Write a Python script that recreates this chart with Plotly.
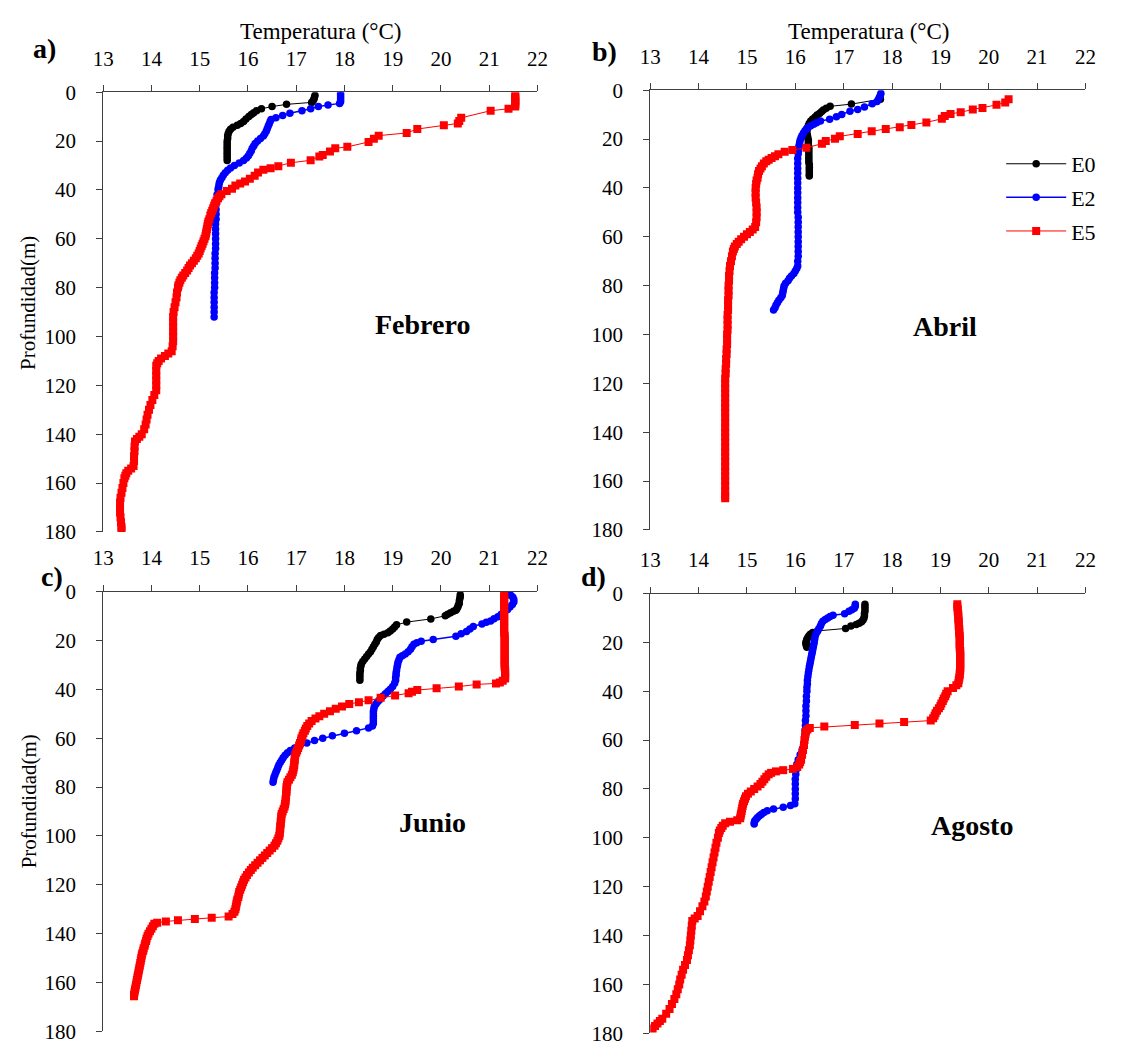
import plotly.graph_objects as go

# CTD profiles: (depth m, temperature °C) per station and month

# ---- Febrero ----
feb_e0 = [(1.3, 17.39), (2.0, 17.38), (2.8, 17.37), (3.5, 17.35), (4.2, 17.32), (5.0, 16.80), (5.9, 16.50), (6.8, 16.28),
          (7.6, 16.18), (8.4, 16.12), (9.2, 16.07), (10.0, 16.02), (11.0, 15.96), (12.0, 15.91), (12.8, 15.85), (13.6, 15.78),
          (14.4, 15.69), (15.2, 15.64), (16.0, 15.61), (17.0, 15.59), (18.0, 15.58), (19.0, 15.58), (20.0, 15.57), (21.0, 15.57),
          (22.0, 15.57), (23.0, 15.57), (24.0, 15.57), (25.0, 15.57), (26.0, 15.57), (27.0, 15.57), (28.0, 15.57)]
feb_e2 = [(0.7, 17.92), (1.5, 17.92), (2.3, 17.92), (3.1, 17.92), (3.9, 17.92), (4.6, 17.90), (5.3, 17.66), (5.9, 17.46),
          (6.8, 17.30), (7.6, 17.12), (8.6, 16.87), (9.6, 16.72), (10.5, 16.58), (11.2, 16.48), (12, 16.46), (13, 16.44),
          (14, 16.42), (15, 16.40), (16, 16.38), (17, 16.35), (18, 16.32), (19, 16.26), (20, 16.20), (21, 16.15), (22, 16.12),
          (23, 16.09), (24, 16.07), (25, 16.04), (26, 16.01), (27, 15.97), (28, 15.91), (29, 15.82), (30, 15.72), (31, 15.64),
          (32, 15.58), (33, 15.53), (34, 15.49), (35, 15.46), (36, 15.43), (37, 15.41), (38, 15.40), (39, 15.39), (40, 15.38),
          (42, 15.36), (44, 15.35), (46, 15.34), (48, 15.34), (50, 15.34), (52, 15.34), (54, 15.33), (56, 15.33), (58, 15.33),
          (60, 15.33), (62, 15.33), (64, 15.33), (66, 15.32), (68, 15.32), (70, 15.32), (72, 15.32), (74, 15.31), (76, 15.31),
          (78, 15.31), (80, 15.31), (82, 15.30), (84, 15.30), (86, 15.30), (88, 15.30), (90, 15.30), (92, 15.30)]
feb_e5 = [(1.3, 21.54), (2.0, 21.54), (2.8, 21.54), (3.6, 21.54), (4.4, 21.54), (5.2, 21.54), (5.9, 21.54), (6.8, 21.40),
          (7.6, 21.03), (10.5, 20.42), (11.8, 20.38), (12.8, 20.35), (13.6, 20.06), (15.1, 19.51), (16.7, 19.29), (17.8, 18.71),
          (19.1, 18.61), (20.4, 18.50), (22.4, 18.06), (23.0, 17.81), (24.3, 17.70), (25.7, 17.55), (26.3, 17.48), (27.9, 17.30),
          (28.9, 16.89), (30.3, 16.63), (31.2, 16.47), (31.8, 16.32), (32.9, 16.21), (34.2, 16.14), (35.4, 16.04), (36.6, 15.94),
          (37.4, 15.84), (38.2, 15.74), (39.5, 15.67), (40.5, 15.56), (41.8, 15.45), (42.6, 15.41), (43.4, 15.38), (44.5, 15.35),
          (45.5, 15.32), (46.5, 15.30), (47.5, 15.28), (48.5, 15.26), (49.5, 15.24), (50.5, 15.22), (52, 15.20), (53, 15.18),
          (54, 15.17), (55, 15.16), (56, 15.15), (57, 15.14), (58, 15.13), (59, 15.12), (60, 15.10), (61, 15.08), (62, 15.06),
          (63, 15.04), (64, 15.02), (65, 15.00), (66, 14.98), (67, 14.95), (68, 14.92), (69, 14.88), (70, 14.84), (71, 14.80),
          (72, 14.77), (73, 14.74), (74, 14.70), (75, 14.66), (76, 14.63), (77, 14.60), (78, 14.58), (79, 14.56), (80, 14.55),
          (82, 14.53), (84, 14.52), (86, 14.50), (88, 14.48), (90, 14.46), (92, 14.45), (94, 14.45), (96, 14.45), (98, 14.45),
          (100, 14.45), (102, 14.45), (104, 14.44), (106, 14.42), (107, 14.35), (108, 14.28), (109, 14.20), (110, 14.15),
          (111, 14.12), (112, 14.10), (114, 14.10), (116, 14.10), (118, 14.10), (120, 14.10), (122, 14.10), (124, 14.06),
          (126, 14.02), (128, 13.98), (130, 13.95), (132, 13.92), (134, 13.90), (136, 13.88), (138, 13.85), (140, 13.80),
          (141, 13.75), (142, 13.70), (143, 13.66), (145, 13.65), (147, 13.65), (149, 13.64), (151, 13.64), (153, 13.63),
          (154, 13.58), (155, 13.52), (156, 13.48), (157, 13.46), (158, 13.44), (160, 13.42), (162, 13.40), (164, 13.38),
          (166, 13.36), (168, 13.35), (170, 13.35), (172, 13.35), (174, 13.36), (176, 13.37), (178, 13.38), (179, 13.38)]

# ---- Abril ----
abr_e0 = [(3.7, 17.76), (5.7, 17.16), (6.6, 16.72), (7.4, 16.64), (8.1, 16.58), (8.8, 16.54), (9.5, 16.50), (10.2, 16.45),
          (11.0, 16.41), (11.8, 16.36), (12.6, 16.32), (13.5, 16.29), (14.5, 16.27), (15.5, 16.25), (16.5, 16.24), (17.5, 16.24),
          (18.5, 16.25), (19.5, 16.26), (20.5, 16.27), (21.5, 16.27), (22.5, 16.27), (23.5, 16.28), (24.5, 16.28), (25.5, 16.28),
          (26.5, 16.28), (27.5, 16.28), (28.5, 16.28), (29.5, 16.28), (30.5, 16.29), (31.5, 16.29), (32.5, 16.29), (33.5, 16.29),
          (34.5, 16.29), (35.1, 16.29)]
abr_e2 = [(1.3, 17.77), (2.0, 17.76), (2.9, 17.74), (3.7, 17.72), (4.6, 17.69), (5.6, 17.59), (6.9, 17.43), (7.9, 17.29),
          (8.6, 17.13), (9.9, 16.96), (10.9, 16.85), (11.9, 16.71), (12.6, 16.52), (13.3, 16.44), (13.9, 16.38), (14.6, 16.32),
          (15.2, 16.27), (15.9, 16.23), (16.6, 16.20), (17.5, 16.17), (18.5, 16.14), (19.5, 16.12), (20.5, 16.10), (21.5, 16.09),
          (22.5, 16.08), (23.5, 16.07), (25, 16.06), (26, 16.06), (28, 16.05), (30, 16.05), (32, 16.05), (34, 16.05), (36, 16.05),
          (38, 16.05), (40, 16.05), (42, 16.05), (44, 16.05), (46, 16.05), (48, 16.05), (50, 16.05), (52, 16.06), (54, 16.06),
          (56, 16.06), (58, 16.06), (60, 16.06), (62, 16.06), (64, 16.06), (66, 16.06), (68, 16.06), (70, 16.05), (72, 16.05),
          (73, 16.03), (74, 16.00), (75, 15.97), (76, 15.92), (77, 15.88), (78, 15.85), (79, 15.80), (80, 15.77), (81, 15.76),
          (82, 15.75), (83, 15.74), (84, 15.73), (85, 15.70), (86, 15.66), (87, 15.63), (88, 15.60), (89, 15.58), (90, 15.55)]
abr_e5 = [(3.7, 20.41), (5.0, 20.34), (6.0, 20.16), (7.3, 19.87), (7.9, 19.67), (9.0, 19.42), (9.7, 19.21), (10.6, 19.09),
          (11.7, 19.03), (13.2, 18.71), (14.2, 18.40), (15.2, 18.16), (15.9, 17.87), (16.8, 17.58), (17.9, 17.29), (18.9, 16.92),
          (19.9, 16.82), (20.8, 16.63), (21.9, 16.55), (23.6, 16.23), (24.5, 15.94), (25.2, 15.78), (26.2, 15.65), (27.0, 15.58),
          (27.8, 15.51), (28.5, 15.45), (29.1, 15.40), (30.0, 15.35), (31.1, 15.31), (32.0, 15.28), (33.1, 15.25), (34.4, 15.23),
          (35.8, 15.22), (37.0, 15.20), (38.4, 15.19), (40, 15.18), (42, 15.18), (44, 15.18), (46, 15.19), (48, 15.20),
          (50, 15.20), (52, 15.20), (54, 15.19), (56, 15.17), (57, 15.12), (58, 15.06), (59, 15.00), (60, 14.94), (61, 14.88),
          (62, 14.83), (63, 14.79), (64, 14.75), (65, 14.73), (66, 14.71), (68, 14.69), (70, 14.67), (72, 14.65), (74, 14.64),
          (76, 14.63), (78, 14.63), (80, 14.62), (82, 14.62), (84, 14.62), (86, 14.61), (88, 14.61), (90, 14.61), (92, 14.60),
          (94, 14.60), (96, 14.60), (98, 14.60), (100, 14.59), (102, 14.59), (104, 14.59), (106, 14.58), (108, 14.58),
          (110, 14.57), (112, 14.57), (114, 14.56), (116, 14.56), (118, 14.55), (120, 14.55), (122, 14.55), (124, 14.55),
          (126, 14.55), (128, 14.55), (130, 14.55), (132, 14.55), (134, 14.55), (136, 14.55), (138, 14.55), (140, 14.55),
          (142, 14.55), (144, 14.55), (146, 14.55), (148, 14.55), (150, 14.55), (152, 14.55), (154, 14.55), (156, 14.55),
          (158, 14.55), (160, 14.55), (162, 14.55), (164, 14.55), (166, 14.55), (167, 14.55)]

# ---- Junio ----
jun_e0 = [(1.3, 20.40), (2.1, 20.40), (2.9, 20.39), (3.9, 20.38), (4.9, 20.38), (5.6, 20.36), (6.3, 20.35), (7.0, 20.33),
          (7.6, 20.31), (8.1, 20.26), (8.7, 20.20), (9.3, 20.14), (9.9, 20.09), (11.2, 19.79), (12.5, 19.29), (13.6, 19.08),
          (14.5, 19.04), (15.3, 19.00), (16.1, 18.95), (16.9, 18.90), (17.5, 18.82), (18.0, 18.75), (18.8, 18.71), (19.6, 18.68),
          (20.6, 18.66), (21.6, 18.63), (22.6, 18.60), (23.6, 18.57), (24.6, 18.54), (25.6, 18.50), (26.6, 18.46), (27.6, 18.42),
          (28.6, 18.38), (29.6, 18.35), (30.5, 18.34), (31.4, 18.33), (32.3, 18.33), (33.3, 18.32), (34.3, 18.32), (35.3, 18.32),
          (36.3, 18.32)]
jun_e2 = [(0.9, 21.40), (1.6, 21.45), (2.3, 21.49), (3.3, 21.51), (4.3, 21.51), (5.3, 21.48), (6.3, 21.43), (7.3, 21.38),
          (8.3, 21.32), (9.3, 21.25), (10.3, 21.18), (11.1, 21.10), (12.0, 21.03), (12.6, 20.94), (13.3, 20.85), (14.3, 20.67),
          (15.3, 20.60), (16.3, 20.53), (17.3, 20.42), (18.3, 20.31), (19.6, 19.84), (20.3, 19.59), (21.0, 19.50), (21.6, 19.44),
          (22.6, 19.40), (23.6, 19.37), (24.6, 19.32), (25.6, 19.26), (26.3, 19.20), (26.9, 19.15), (27.9, 19.13), (28.9, 19.11),
          (30, 19.10), (31, 19.09), (32.3, 19.08), (33.3, 19.07), (34.3, 19.07), (35.3, 19.06), (36.3, 19.06), (37.5, 19.04),
          (38.9, 19.00), (40, 18.95), (40.9, 18.90), (41.8, 18.85), (42.7, 18.80), (43.6, 18.76), (44.5, 18.72), (45.3, 18.68),
          (46.1, 18.65), (47, 18.62), (48, 18.61), (49, 18.60), (50, 18.60), (51, 18.60), (52, 18.60), (53, 18.60), (54, 18.60),
          (55, 18.58), (55.8, 18.50), (57, 18.25), (58, 18.00), (59, 17.75), (60, 17.55), (61, 17.38), (62, 17.22), (63, 17.08),
          (64, 16.97), (65, 16.88), (66, 16.82), (67, 16.77), (68, 16.73), (69, 16.70), (70, 16.67), (71, 16.64), (72, 16.62),
          (73, 16.60), (74, 16.58), (75, 16.56), (76, 16.54), (77, 16.53), (78, 16.52)]
jun_e5 = [(1, 21.31), (2, 21.31), (3, 21.31), (4, 21.31), (5, 21.31), (6, 21.31), (7, 21.31), (8, 21.31), (9, 21.31),
          (10, 21.31), (11, 21.31), (12, 21.31), (13, 21.31), (14, 21.31), (15, 21.31), (16, 21.31), (17, 21.31), (18, 21.32),
          (19, 21.32), (20, 21.32), (21, 21.32), (22, 21.32), (23, 21.32), (24, 21.32), (25, 21.32), (26, 21.32), (27, 21.32),
          (28, 21.32), (29, 21.32), (30, 21.32), (31, 21.32), (32, 21.33), (33, 21.33), (34, 21.33), (35, 21.33), (35.6, 21.33),
          (36.5, 21.28), (37.2, 21.22), (37.6, 21.14), (38.0, 20.74), (38.9, 20.37), (39.6, 19.91), (40.3, 19.51), (41.0, 19.40),
          (41.6, 19.33), (42.5, 19.05), (43.5, 18.75), (44.5, 18.50), (45.3, 18.30), (46, 18.10), (47, 17.95), (48, 17.82),
          (49, 17.70), (50, 17.58), (51, 17.48), (52, 17.40), (53, 17.32), (54, 17.27), (55, 17.23), (56, 17.20), (57, 17.18),
          (58, 17.15), (59, 17.13), (60, 17.11), (61, 17.10), (62, 17.08), (63, 17.06), (64, 17.04), (65, 17.02), (66, 17.00),
          (67, 16.98), (68, 16.97), (69, 16.97), (70, 16.96), (71, 16.96), (72, 16.95), (73, 16.94), (74, 16.93), (75, 16.91),
          (76, 16.88), (77, 16.85), (78, 16.82), (79, 16.81), (80, 16.80), (81, 16.80), (82, 16.80), (83, 16.79), (84, 16.79),
          (85, 16.78), (86, 16.78), (87, 16.77), (88, 16.76), (89, 16.74), (90, 16.72), (91, 16.70), (92, 16.69), (93, 16.69),
          (94, 16.68), (95, 16.68), (96, 16.67), (97, 16.67), (98, 16.66), (99, 16.66), (100, 16.65), (101, 16.63), (102, 16.61),
          (103, 16.58), (104, 16.55), (105, 16.50), (106, 16.45), (107, 16.40), (108, 16.35), (109, 16.30), (110, 16.25),
          (111, 16.20), (112, 16.15), (113, 16.10), (114, 16.06), (115, 16.02), (116, 15.98), (117, 15.95), (118, 15.92),
          (119, 15.90), (120, 15.88), (121, 15.86), (122, 15.84), (123, 15.82), (124, 15.81), (125, 15.80), (126, 15.78),
          (127, 15.77), (128, 15.76), (129, 15.75), (130, 15.74), (131, 15.72), (132, 15.68), (133, 15.60), (133.5, 15.25),
          (134, 14.90), (134.5, 14.55), (135, 14.30), (135.5, 14.12), (136, 14.06), (137, 14.03), (138, 14.00), (139, 13.97),
          (140, 13.94), (141, 13.92), (142, 13.90), (143, 13.89), (144, 13.87), (145, 13.86), (146, 13.84), (147, 13.83),
          (148, 13.81), (149, 13.80), (150, 13.79), (151, 13.78), (152, 13.77), (153, 13.76), (154, 13.75), (155, 13.74),
          (156, 13.73), (157, 13.72), (158, 13.71), (159, 13.70), (160, 13.69), (161, 13.68), (162, 13.67), (163, 13.66),
          (164, 13.65), (165, 13.64), (165.6, 13.64)]

# ---- Agosto ----
ago_e0 = [(4.4, 17.44), (5.3, 17.44), (6.2, 17.44), (7.3, 17.44), (8.2, 17.43), (9.1, 17.43), (10.0, 17.42), (10.8, 17.40),
          (11.6, 17.37), (12.2, 17.32), (12.7, 17.26), (13.3, 17.15), (14.3, 17.04), (15.3, 16.46), (16.0, 16.36), (16.7, 16.31),
          (17.4, 16.28), (18.0, 16.26), (18.7, 16.24), (19.4, 16.23), (20.0, 16.22), (20.7, 16.22), (21.4, 16.23), (22.0, 16.24)]
ago_e2 = [(4.4, 17.24), (5.2, 17.24), (6.0, 17.22), (6.6, 17.17), (7.3, 17.11), (8.3, 17.02), (8.9, 16.78), (9.4, 16.72),
          (10.0, 16.67), (10.6, 16.62), (11.3, 16.57), (12.3, 16.54), (13.3, 16.52), (14.3, 16.49), (15.3, 16.46), (16.4, 16.43),
          (17.5, 16.41), (18.7, 16.40), (20, 16.39), (21, 16.38), (22, 16.37), (23, 16.36), (24, 16.35), (25, 16.34), (26, 16.33),
          (27, 16.32), (28, 16.31), (29, 16.30), (30, 16.29), (31.3, 16.28), (32.5, 16.27), (34, 16.26), (35.5, 16.25),
          (37, 16.25), (38.5, 16.24), (40, 16.24), (42, 16.23), (44, 16.23), (46, 16.22), (48, 16.22), (50, 16.22), (52, 16.21),
          (54, 16.21), (56, 16.20), (58, 16.20), (60, 16.19), (62, 16.17), (64, 16.14), (66, 16.10), (68, 16.06), (70, 16.03),
          (72, 16.02), (74, 16.01), (76, 16.00), (78, 16.00), (80, 16.00), (82, 16.00), (84, 16.00), (86, 15.99), (86.8, 15.90),
          (87.5, 15.75), (88.2, 15.55), (88.9, 15.42), (89.6, 15.35), (90.3, 15.30), (91.0, 15.26), (91.7, 15.22), (92.4, 15.19),
          (93.1, 15.16), (93.8, 15.15), (94.3, 15.15)]
ago_e5 = [(4.4, 19.35), (5.5, 19.35), (6.5, 19.36), (7.5, 19.36), (8.5, 19.37), (9.5, 19.37), (10.5, 19.37), (11.5, 19.38),
          (12.5, 19.38), (13.5, 19.38), (14.5, 19.39), (15.5, 19.39), (16.5, 19.39), (17.5, 19.40), (18.5, 19.40), (19.5, 19.40),
          (20.5, 19.40), (21.5, 19.40), (22.5, 19.40), (23.5, 19.41), (24.5, 19.41), (25.5, 19.41), (26.5, 19.41), (27.5, 19.41),
          (28.5, 19.41), (29.5, 19.41), (30.5, 19.41), (31.5, 19.41), (32.5, 19.40), (33.5, 19.40), (34.5, 19.39), (35.5, 19.38),
          (36.7, 19.37), (37.5, 19.33), (38.7, 19.26), (40, 19.15), (41, 19.12), (42, 19.10), (43, 19.07), (44, 19.05),
          (45, 19.02), (46, 19.00), (47, 18.97), (48, 18.93), (49, 18.90), (50, 18.88), (51, 18.85), (52, 18.80), (52.6, 18.25),
          (53.2, 17.74), (53.8, 17.23), (54.4, 16.60), (55.0, 16.30), (55.7, 16.25), (56.5, 16.22), (57.5, 16.21), (58.5, 16.20),
          (60, 16.19), (62, 16.18), (64, 16.16), (66, 16.14), (68, 16.12), (69, 16.10), (70, 16.08), (71, 16.04), (71.8, 15.95),
          (72.3, 15.75), (72.8, 15.60), (73.4, 15.50), (74, 15.45), (75, 15.40), (76, 15.36), (77, 15.32), (78, 15.28),
          (79, 15.22), (80, 15.15), (81, 15.08), (82, 15.02), (83, 14.98), (84, 14.96), (85, 14.94), (86, 14.92), (87, 14.91),
          (88, 14.90), (89, 14.89), (90, 14.88), (91, 14.87), (92, 14.86), (92.8, 14.80), (93.4, 14.65), (94, 14.55), (95, 14.50),
          (96, 14.47), (97, 14.44), (98, 14.42), (100, 14.40), (102, 14.37), (104, 14.35), (106, 14.33), (108, 14.31),
          (110, 14.29), (112, 14.27), (114, 14.25), (116, 14.23), (118, 14.21), (120, 14.19), (122, 14.17), (124, 14.15),
          (126, 14.12), (128, 14.08), (130, 14.03), (132, 13.98), (133, 13.92), (134, 13.87), (136, 13.86), (138, 13.85),
          (140, 13.84), (142, 13.83), (144, 13.82), (146, 13.80), (148, 13.78), (150, 13.76), (152, 13.72), (154, 13.68),
          (156, 13.65), (158, 13.62), (160, 13.60), (162, 13.57), (164, 13.54), (166, 13.50), (168, 13.45), (170, 13.40),
          (172, 13.33), (174, 13.25), (175, 13.20), (176, 13.15), (177, 13.10), (178, 13.05)]

panels = [
    ("a)", "Febrero", feb_e0, feb_e2, feb_e5),
    ("b)", "Abril", abr_e0, abr_e2, abr_e5),
    ("c)", "Junio", jun_e0, jun_e2, jun_e5),
    ("d)", "Agosto", ago_e0, ago_e2, ago_e5),
]

W, H = 1121, 1059
FONT = "Liberation Serif, Times New Roman, serif"
AX = "#404040"

# panel boxes in pixels: (left, right, top, bottom)
boxes = [(94, 537, 82, 532), (652, 1096, 80, 530), (94, 537, 593, 1043), (652, 1096, 595, 1045)]

styles = [
    ("E0", dict(color="#000000", width=1), dict(symbol="circle", size=7.5, color="#000000")),
    ("E2", dict(color="#0000FF", width=1.5), dict(symbol="circle", size=7.5, color="#0000FF")),
    ("E5", dict(color="#FF0000", width=1), dict(symbol="square", size=8, color="#FF0000")),
]

fig = go.Figure()
annotations = []
layout = {}
for i, (tag, month, *series) in enumerate(panels):
    n = i + 1
    xs = "x" if n == 1 else f"x{n}"
    ys = "y" if n == 1 else f"y{n}"
    for (name, line, marker), profile in zip(styles, series):
        depth = [p[0] for p in profile]
        temp = [p[1] for p in profile]
        fig.add_trace(go.Scatter(
            x=temp, y=depth, mode="lines+markers", name=name, line=line, marker=marker,
            xaxis=xs, yaxis=ys, showlegend=(n == 2), legendgroup=name,
        ))
    l, r, tp, b = boxes[i]
    layout[f"xaxis{'' if n == 1 else n}"] = dict(
        domain=[l / W, r / W], anchor=ys, side="top", range=[13, 22], dtick=1,
        ticks="outside", ticklen=6, tickcolor=AX, showline=True, linecolor=AX, linewidth=1,
        showgrid=False, zeroline=False, ticklabelstandoff=11,
        tickfont=dict(family=FONT, size=21, color="#000000"),
    )
    layout[f"yaxis{'' if n == 1 else n}"] = dict(
        domain=[1 - b / H, 1 - tp / H], anchor=xs, range=[180, 0], dtick=20,
        ticks="outside", ticklen=6, tickcolor=AX, showline=True, linecolor=AX, linewidth=1,
        showgrid=False, zeroline=False, ticklabelstandoff=16,
        tickfont=dict(family=FONT, size=21, color="#000000"),
    )


def label(px, py, text, size, angle=0):
    return dict(x=px / W, y=1 - py / H, xref="paper", yref="paper", text=text, textangle=angle,
                xanchor="center", yanchor="middle", showarrow=False,
                font=dict(family=FONT, size=size, color="#000"))


# panel tags, month names, axis titles
tag_pos = [(34, 37), (605, 40), (42, 578), (594, 578)]
month_pos = [(420, 320), (953, 322), (430, 829), (980, 832)]
for i, (tag, month, *_) in enumerate(panels):
    annotations.append(label(*tag_pos[i], f"<b>{tag}</b>", 28))
    annotations.append(label(*month_pos[i], f"<b>{month}</b>", 28))
for cx in (316, 875):
    annotations.append(label(cx, 20, "Temperatura (°C)", 23))
for cy in (298, 808):
    annotations.append(label(18, cy, "Profundidad(m)", 21, angle=-90))

fig.update_layout(
    width=W, height=H, margin=dict(l=0, r=0, t=0, b=0),
    paper_bgcolor="white", plot_bgcolor="white",
    showlegend=True,
    legend=dict(x=1010 / W, y=1 - 134 / H, xanchor="left", yanchor="top", bgcolor="rgba(0,0,0,0)",
                font=dict(family=FONT, size=22, color="#000"), itemwidth=60, tracegroupgap=2),
    annotations=annotations,
    **layout,
)

fig.write_html("out.html")
